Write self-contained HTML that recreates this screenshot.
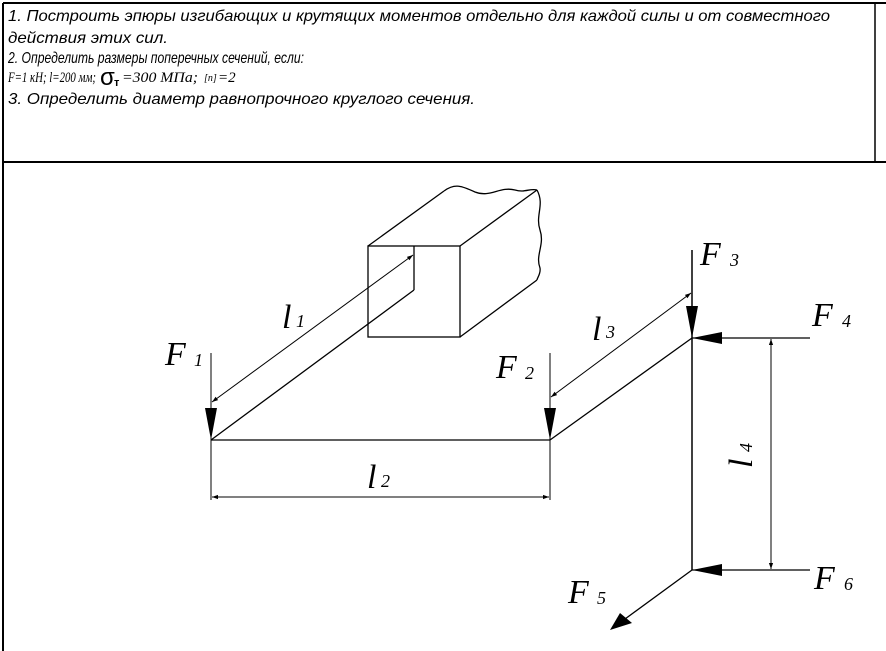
<!DOCTYPE html>
<html><head><meta charset="utf-8"><style>
html,body{margin:0;padding:0;background:#fff;}
svg{display:block;}
.t{font-family:"Liberation Sans",sans-serif;font-style:italic;font-size:16px;fill:#000;}
.s{font-family:"Liberation Serif",serif;font-style:italic;fill:#000;}
</style></head><body>
<svg width="886" height="651" viewBox="0 0 886 651" xmlns="http://www.w3.org/2000/svg">
<defs>
<marker id="a" viewBox="0 0 10 10" refX="10" refY="5" markerWidth="12" markerHeight="6" orient="auto-start-reverse" markerUnits="userSpaceOnUse"><path d="M0,1.5 L10,5 L0,8.5 z" fill="#000"/></marker>
</defs>
<g stroke="#000" fill="none">
<line x1="3" y1="3" x2="886" y2="3" stroke-width="2"/>
<line x1="3" y1="3" x2="3" y2="651" stroke-width="2"/>
<line x1="3" y1="162" x2="886" y2="162" stroke-width="2"/>
<line x1="875" y1="3" x2="875" y2="162" stroke-width="1.5"/>
</g>
<text class="t" x="8" y="21" textLength="822" lengthAdjust="spacingAndGlyphs">1. Построить эпюры изгибающих и крутящих моментов отдельно для каждой силы и от совместного</text>
<text class="t" x="8" y="43" textLength="160" lengthAdjust="spacingAndGlyphs">действия этих сил.</text>
<text class="t" x="8" y="63" textLength="296" lengthAdjust="spacingAndGlyphs">2. Определить размеры поперечных сечений, если:</text>
<text class="s" x="8" y="82" font-size="15" fill="#555" textLength="88" lengthAdjust="spacingAndGlyphs">F=1 кН; l=200 мм;</text>
<text x="100" y="85" font-family="Liberation Sans,sans-serif" font-size="24">σ</text>
<text x="114" y="86" font-family="Liberation Sans,sans-serif" font-size="11" font-weight="bold">т</text>
<text class="s" x="122" y="82" font-size="15" fill="#555" textLength="76" lengthAdjust="spacingAndGlyphs">=300 МПа;</text>
<text class="s" x="204" y="81" font-size="10" fill="#777">[n]</text>
<text class="s" x="218" y="82" font-size="15" fill="#555">=2</text>
<text class="t" x="8" y="104" textLength="467" lengthAdjust="spacingAndGlyphs">3. Определить диаметр равнопрочного круглого сечения.</text>

<g stroke="#000" fill="none" stroke-width="1.3">
<rect x="368" y="246" width="92" height="91"/>
<line x1="368" y1="246" x2="444" y2="191"/>
<line x1="460" y1="246" x2="537" y2="190"/>
<line x1="460" y1="337" x2="537" y2="280"/>
<path d="M444,191 C455,183 462,186 475,192 C490,198 500,186 515,190 C525,193 530,188 537,190"/>
<path d="M537,190 C545,205 535,215 540,230 C545,245 535,255 540,268 C541,274 537,278 537,280"/>
<line x1="414" y1="246" x2="414" y2="290"/>
<line x1="414" y1="290" x2="211" y2="440"/>
<line x1="211" y1="440" x2="550" y2="440"/>
<line x1="550" y1="440" x2="692" y2="338"/>
<line x1="692" y1="250" x2="692" y2="570" stroke-width="1.5"/>
<line x1="211" y1="353" x2="211" y2="500" stroke-width="1"/>
<line x1="550" y1="353" x2="550" y2="500" stroke-width="1"/>
<line x1="692" y1="338" x2="810" y2="338"/>
<line x1="692" y1="570" x2="810" y2="570"/>
<line x1="692" y1="570" x2="625" y2="619"/>
</g>
<g fill="#000">
<path d="M205,408 L217,408 L211,440 z"/>
<path d="M544,408 L556,408 L550,440 z"/>
<path d="M686,306 L698,306 L692,338 z"/>
<path d="M722,332 L722,344 L692,338 z"/>
<path d="M722,564 L722,576 L692,570 z"/>
<path d="M620,613 L632,623 L610,630 z"/>
</g>
<g stroke="#000" stroke-width="1" fill="none">
<line x1="413" y1="255" x2="212" y2="402" marker-start="url(#a)" marker-end="url(#a)"/>
<line x1="212" y1="497" x2="549" y2="497" marker-start="url(#a)" marker-end="url(#a)"/>
<line x1="691" y1="293" x2="551" y2="397" marker-start="url(#a)" marker-end="url(#a)"/>
<line x1="771" y1="339" x2="771" y2="569" marker-start="url(#a)" marker-end="url(#a)"/>
</g>
<g class="s" font-size="34">
<text x="165" y="365">F</text><text x="194" y="366" font-size="18">1</text>
<text x="496" y="378">F</text><text x="525" y="379" font-size="18">2</text>
<text x="700" y="265">F</text><text x="730" y="266" font-size="18">3</text>
<text x="812" y="326">F</text><text x="842" y="327" font-size="18">4</text>
<text x="568" y="603">F</text><text x="597" y="604" font-size="18">5</text>
<text x="814" y="589">F</text><text x="844" y="590" font-size="18">6</text>
<text x="282" y="328">l</text><text x="296" y="327" font-size="18">1</text>
<text x="367" y="488">l</text><text x="381" y="487" font-size="18">2</text>
<text x="592" y="340">l</text><text x="606" y="338" font-size="18">3</text>
<text transform="translate(752,468) rotate(-90)">l</text>
<text transform="translate(752,452) rotate(-90)" font-size="18">4</text>
</g>
</svg>
</body></html>
